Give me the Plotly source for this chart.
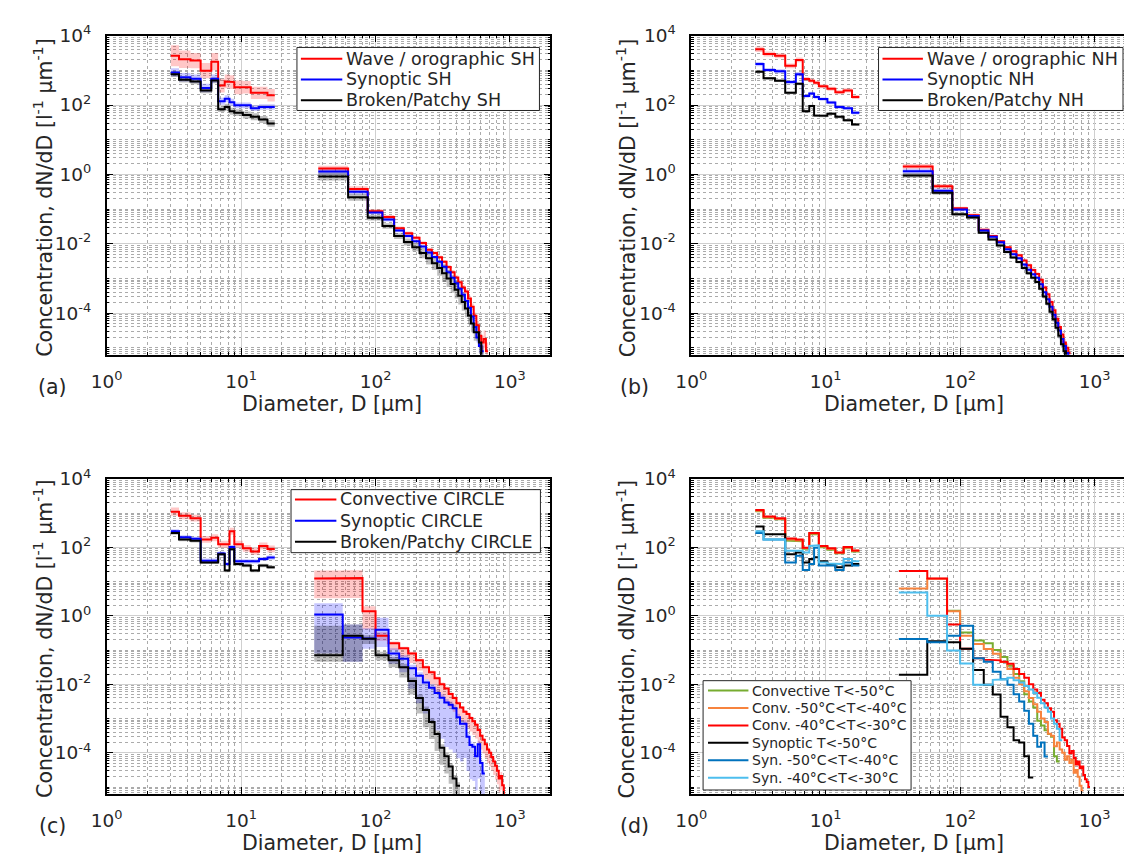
import plotly.graph_objects as go

# ---------------- bin edges (µm) ----------------
SMALL_EDGES = [3, 3.45, 4.2, 5, 6, 6.75, 7.55, 8.2, 8.9, 10.3, 11.8, 13.6, 15.7, 17.8]
AB_LARGE_EDGES = [37.5, 62.5, 87.5, 112.5, 137.5, 162.5, 187.5, 212.5, 237.5, 262.5,
                  287.5, 312.5, 337.5, 362.5, 387.5, 412.5, 437.5, 462.5, 487.5, 512.5,
                  537.5, 562.5, 587.5, 612.5, 637.5, 662.5, 687.5]
CD_LARGE_EDGES = [35, 57, 80, 100, 125, 150, 175, 200, 225, 250, 275, 300, 325, 350,
                  375, 400, 425, 450, 475, 500, 525, 550, 575, 600, 625, 650, 675, 700,
                  725, 750, 775, 800, 825, 850, 875, 900, 925]

# ---------------- values: log10 of dN/dD [l^-1 um^-1] ----------------
# (a) Southern hemisphere
a_wave_small = [3.42, 3.32, 3.28, 2.99, 3.25, 2.56, 2.68, 2.66, 2.51, 2.51, 2.35, 2.35, 2.28]
a_syn_small = [2.94, 2.80, 2.76, 2.49, 2.76, 2.11, 2.18, 2.08, 1.99, 1.99, 1.91, 1.94, 1.94]
a_brk_small = [2.89, 2.73, 2.68, 2.42, 2.71, 1.88, 1.94, 1.82, 1.78, 1.71, 1.66, 1.58, 1.47]
a_wave_large = [0.17, -0.42, -1.06, -1.23, -1.55, -1.70, -1.83, -1.98, -2.17, -2.27, -2.39, -2.52, -2.67,
                -2.82, -2.97, -3.11, -3.26, -3.38, -3.58, -3.82, -4.08, -4.35, -4.65, -4.85, -4.75, -5.10]
a_syn_large = [0.08, -0.50, -1.10, -1.30, -1.62, -1.78, -1.93, -2.08, -2.25, -2.38, -2.52, -2.66, -2.82,
               -2.98, -3.14, -3.30, -3.47, -3.65, -3.85, -4.10, -4.40, -4.70, -4.95, -5.10]
a_brk_large = [-0.06, -0.66, -1.25, -1.49, -1.78, -1.95, -2.10, -2.27, -2.42, -2.56, -2.70, -2.85, -3.00,
               -3.16, -3.33, -3.50, -3.68, -3.87, -4.07, -4.30, -4.55, -4.55, -4.85, -5.25]
a_wave_small_err = [0.30, 0.25, 0.22, 0.22, 0.25, 0.20, 0.20, 0.20, 0.20, 0.18, 0.18, 0.18, 0.18]
a_syn_small_err = [0.12, 0.12, 0.12, 0.12, 0.12, 0.10, 0.10, 0.10, 0.08, 0.08, 0.08, 0.08, 0.08]
a_brk_small_err = [0.08, 0.08, 0.08, 0.08, 0.08, 0.08, 0.10, 0.10, 0.10, 0.10, 0.10, 0.10, 0.10]
a_wave_large_err = [0.08, 0.08, 0.06, 0.06, 0.05, 0.05, 0.05, 0.05, 0.05, 0.05, 0.05, 0.05, 0.06,
                    0.06, 0.06, 0.07, 0.07, 0.08, 0.08, 0.10, 0.10, 0.12, 0.15, 0.20, 0.25, 0.25]
a_syn_large_err = [0.08, 0.08, 0.06, 0.06, 0.05, 0.05, 0.05, 0.05, 0.05, 0.05, 0.05, 0.06, 0.06,
                   0.06, 0.07, 0.07, 0.08, 0.08, 0.10, 0.10, 0.12, 0.15, 0.20, 0.20]
a_brk_large_err = [0.12, 0.10, 0.08, 0.08, 0.08, 0.10, 0.12, 0.15, 0.18, 0.20, 0.22, 0.25, 0.25,
                   0.25, 0.25, 0.25, 0.25, 0.25, 0.25, 0.25, 0.25, 0.25, 0.30, 0.30]

# (b) Northern hemisphere
b_wave_small = [3.61, 3.47, 3.42, 3.13, 3.30, 2.75, 2.70, 2.64, 2.54, 2.47, 2.37, 2.42, 2.23]
b_syn_small = [3.18, 3.01, 2.97, 2.66, 2.89, 2.26, 2.33, 2.23, 2.17, 2.07, 1.94, 1.91, 1.78]
b_brk_small = [2.96, 2.77, 2.70, 2.35, 2.61, 1.82, 1.97, 1.70, 1.69, 1.75, 1.66, 1.56, 1.44]
b_wave_large = [0.23, -0.34, -0.98, -1.18, -1.60, -1.78, -1.93, -2.10, -2.22, -2.33, -2.48, -2.62, -2.76,
                -2.87, -3.04, -3.26, -3.46, -3.68, -3.92, -4.16, -4.40, -4.62, -4.85, -5.00, -5.15]
b_syn_large = [0.09, -0.47, -1.01, -1.20, -1.62, -1.80, -1.96, -2.16, -2.30, -2.42, -2.60, -2.75, -2.88,
               -2.98, -3.17, -3.40, -3.60, -3.82, -4.05, -4.28, -4.50, -4.75, -4.95, -5.15, -5.30]
b_brk_large = [-0.03, -0.53, -1.15, -1.24, -1.68, -1.88, -2.05, -2.24, -2.40, -2.53, -2.70, -2.85, -2.98,
               -3.10, -3.30, -3.52, -3.73, -3.96, -4.18, -4.42, -4.65, -4.90, -5.10, -5.30]
b_wave_small_err = [0.08, 0.07, 0.07, 0.07, 0.07, 0.06, 0.06, 0.06, 0.06, 0.06, 0.06, 0.06, 0.06]
b_syn_small_err = [0.06, 0.06, 0.06, 0.06, 0.06, 0.05, 0.05, 0.05, 0.05, 0.05, 0.05, 0.05, 0.05]
b_brk_small_err = [0.04, 0.04, 0.04, 0.04, 0.04, 0.04, 0.04, 0.04, 0.04, 0.04, 0.04, 0.04, 0.04]
b_large_err = [0.07, 0.06, 0.05, 0.05, 0.04, 0.04, 0.04, 0.04, 0.04, 0.04, 0.05, 0.05, 0.05,
               0.05, 0.05, 0.06, 0.06, 0.07, 0.07, 0.08, 0.08, 0.10, 0.10, 0.12, 0.12]

# (c) CIRCLE
c_conv_small = [3.04, 2.92, 2.85, 2.23, 2.28, 2.09, 2.09, 2.47, 2.09, 1.97, 1.88, 2.04, 1.95]
c_syn_small = [2.47, 2.29, 2.25, 1.61, 1.61, 1.82, 1.51, 2.01, 1.59, 1.59, 1.59, 1.66, 1.70]
c_brk_small = [2.42, 2.23, 2.19, 1.56, 1.56, 1.80, 1.32, 1.94, 1.51, 1.47, 1.32, 1.47, 1.42]
c_conv_large = [1.09, 1.10, 0.13, -0.58, -0.80, -0.95, -1.10, -1.30, -1.50, -1.65, -1.82, -2.00,
                -2.12, -2.28, -2.40, -2.55, -2.68, -2.80, -2.87, -2.98, -3.08, -3.18, -3.33, -3.50,
                -3.62, -3.75, -3.90, -4.00, -4.12, -4.25, -4.38, -4.52, -4.75, -4.68, -4.95, -5.30]
c_syn_large = [0.04, -0.63, -0.66, -0.41, -1.10, -1.25, -1.53, -1.75, -1.95, -2.10, -2.25, -2.39,
               -2.53, -2.60, -2.70, -2.96, -3.15, -3.15, -3.53, -3.77, -3.82, -4.10, -3.75, -4.30, -4.60]
c_brk_large = [-1.15, -0.58, -0.67, -1.15, -1.30, -1.50, -1.90, -2.40, -2.75, -3.10, -3.45, -3.85,
               -4.10, -4.40, -4.75, -4.96]
c_conv_small_err = [0.12, 0.10, 0.10, 0.10, 0.10, 0.10, 0.10, 0.10, 0.10, 0.10, 0.10, 0.10, 0.10]
c_syn_small_err = [0.06, 0.06, 0.06, 0.06, 0.06, 0.06, 0.06, 0.06, 0.06, 0.06, 0.06, 0.06, 0.06]
c_brk_small_err = [0.05, 0.05, 0.05, 0.05, 0.05, 0.05, 0.05, 0.05, 0.05, 0.05, 0.05, 0.05, 0.05]
c_conv_large_lo = [0.58, 0.58, 0.52, 0.15, 0.20, 0.25, 0.28, 0.30, 0.35, 0.35, 0.40, 0.40,
                   0.40, 0.40, 0.40, 0.40, 0.40, 0.40, 0.40, 0.40, 0.40, 0.40, 0.40, 0.40,
                   0.40, 0.40, 0.40, 0.40, 0.40, 0.40, 0.40, 0.40, 0.40, 0.40, 0.40, 0.40]
c_conv_large_hi = [0.23, 0.23, 0.15, 0.10, 0.05, 0.05, 0.05, 0.05, 0.05, 0.05, 0.05, 0.05,
                   0.05, 0.05, 0.05, 0.05, 0.05, 0.05, 0.05, 0.05, 0.05, 0.05, 0.05, 0.05,
                   0.05, 0.05, 0.08, 0.08, 0.08, 0.10, 0.10, 0.10, 0.12, 0.12, 0.12, 0.12]
c_syn_large_lo = [1.14, 0.71, 0.30, 0.50, 0.30, 0.40, 0.60, 0.80, 0.90, 1.00, 1.10, 1.20,
                  1.30, 1.30, 1.30, 1.20, 1.10, 1.00, 1.00, 1.00, 1.00, 1.00, 1.00, 1.00, 1.00]
c_syn_large_hi = [0.33, 0.38, 0.30, 0.35, 0.15, 0.10, 0.10, 0.10, 0.10, 0.10, 0.10, 0.10,
                  0.10, 0.10, 0.10, 0.10, 0.10, 0.10, 0.10, 0.10, 0.10, 0.10, 0.10, 0.10, 0.10]
c_brk_large_lo = [0.19, 0.76, 0.15, 0.15, 0.20, 0.30, 0.40, 0.45, 0.50, 0.50, 0.50, 0.50,
                  0.50, 0.50, 0.50, 0.50]
c_brk_large_hi = [0.86, 0.33, 0.10, 0.10, 0.10, 0.10, 0.10, 0.10, 0.10, 0.10, 0.10, 0.10,
                  0.10, 0.10, 0.10, 0.10]

# (d) CIRCLE by temperature
d_c50_small = [3.05, 2.86, 2.82, 2.20, 2.18, 1.96, 2.38, 2.38, 2.00, 1.93, 1.83, 1.97, 1.88]
d_c40_small = [3.07, 2.88, 2.83, 2.23, 2.20, 1.98, 2.40, 2.40, 2.02, 1.95, 1.84, 1.99, 1.90]
d_c30_small = [3.09, 2.90, 2.85, 2.26, 2.23, 1.99, 2.42, 2.42, 2.04, 1.97, 1.85, 2.01, 1.91]
d_s50_small = [2.61, 2.38, 2.38, 1.80, 1.85, 1.56, 1.66, 1.71, 1.59, 1.51, 1.42, 1.47, 1.51]
d_s40_small = [2.42, 2.23, 2.23, 1.56, 1.75, 1.34, 1.51, 1.99, 1.47, 1.47, 1.34, 1.56, 1.47]
d_s30_small = [2.47, 2.23, 2.23, 1.90, 1.90, 1.85, 2.04, 2.06, 1.56, 1.53, 1.51, 1.66, 1.59]
d_c50_large = [None, None, 0.15, -0.49, -0.72, -0.80, -1.00, -1.20, -1.46, -1.70, -1.91, -2.29,
               -2.50, -2.68, -3.06, -3.20, -3.34, -3.45, -3.53, -4.10, -4.25]
d_c40_large = [0.80, 1.08, 0.13, -0.58, -0.82, -0.97, -1.11, -1.35, -1.55, -1.81, -2.00, -2.20,
               -2.40, -2.58, -2.80, -3.00, -3.10, -3.44, -3.50, -3.81, -3.70, -3.90, -4.00, -4.20,
               -4.10, -4.30, -4.20, -4.58, -4.50, -4.70, -4.96, -5.10]
d_c30_large = [1.31, 1.09, -0.25, -0.96, -1.24, -1.28, -1.30, -1.34, -1.40, -1.55, -1.70, -1.81,
               -2.00, -2.15, -2.25, -2.45, -2.55, -2.70, -2.80, -3.05, -3.15, -3.30, -3.55, -3.63,
               -3.80, -4.01, -3.95, -4.15, -4.34, -4.25, -4.45, -4.40, -4.65, -4.77, -4.85, -5.00]
d_s50_large = [-1.72, -0.74, -0.77, -0.96, -1.58, -2.01, -2.30, -2.95, -3.25, -3.63, -3.70, -4.10, -4.72]
d_s40_large = [-0.68, -0.77, -0.58, -0.29, -1.24, -1.34, -1.63, -1.85, -2.01, -2.29, -2.50, -2.77,
               -3.15, -3.50, -3.82, -3.70, -4.11]
d_s30_large = [0.68, 0.00, -1.01, -1.39, -2.01, -2.01, -1.87, -1.85, -1.81, -1.88, -1.95, -2.05,
               -2.15, -2.25, -2.39, -2.55, -2.68, -2.80, -3.00, -3.15, -3.30, -3.63]

# ---------------- labels ----------------
A_NAMES = ["Wave / orographic SH", "Synoptic SH", "Broken/Patchy SH"]
B_NAMES = ["Wave / orographic NH", "Synoptic NH", "Broken/Patchy NH"]
C_NAMES = ["Convective CIRCLE", "Synoptic CIRCLE", "Broken/Patchy CIRCLE"]
D_NAMES = ["Convective T<-50°C", "Conv. -50°C<T<-40°C", "Conv. -40°C<T<-30°C",
           "Synoptic T<-50°C", "Syn. -50°C<T<-40°C", "Syn. -40°C<T<-30°C"]
PANEL_LABELS = ["(a)", "(b)", "(c)", "(d)"]
X_TITLE = "Diameter, D [μm]"
Y_TITLE = "Concentration, dN/dD [l<sup>-1</sup> μm<sup>-1</sup>]"
X_TICKS = [1, 10, 100, 1000]
X_TICKTEXT = ["10<sup>0</sup>", "10<sup>1</sup>", "10<sup>2</sup>", "10<sup>3</sup>"]
Y_TICKS = [1e-4, 1e-2, 1, 100, 1e4]
Y_TICKTEXT = ["10<sup>-4</sup>", "10<sup>-2</sup>", "10<sup>0</sup>", "10<sup>2</sup>", "10<sup>4</sup>"]

# ---------------- styling ----------------
W, H = 1124, 854
FONT = "DejaVu Sans"
TXT = "#262626"
RED, BLUE, BLACK = "#ff0000", "#0000ff", "#000000"
F_RED, F_BLUE, F_BLACK = "rgba(255,0,0,0.22)", "rgba(0,0,255,0.22)", "rgba(0,0,0,0.25)"
GREEN, ORANGE, MBLUE, LBLUE = "#77ac30", "#f7833d", "#0072bd", "#4dbeee"


def step_xy(parts):
    xs, ys = [], []
    for edges, logs in parts:
        for i, v in enumerate(logs):
            if v is None:
                xs.append(None); ys.append(None)
                continue
            xs += [edges[i], edges[i + 1]]
            ys += [10 ** v, 10 ** v]
        xs.append(None); ys.append(None)
    return xs, ys


def band_xy(parts):
    xs, ys = [], []
    for edges, logs, lo, hi in parts:
        for i, v in enumerate(logs):
            if v is None:
                continue
            x0, x1 = edges[i], edges[i + 1]
            yl, yh = 10 ** (v - lo[i]), 10 ** (v + hi[i])
            xs += [x0, x1, x1, x0, x0, None]
            ys += [yl, yl, yh, yh, yl, None]
    return xs, ys


fig = go.Figure()


def add_band(ax, parts, fill):
    xs, ys = band_xy(parts)
    fig.add_trace(go.Scatter(x=xs, y=ys, xaxis="x" + ax, yaxis="y" + ax, mode="lines",
                             fill="toself", fillcolor=fill, line=dict(width=0),
                             showlegend=False, hoverinfo="skip"))


def add_line(ax, parts, color, name, width=2):
    xs, ys = step_xy(parts)
    fig.add_trace(go.Scatter(x=xs, y=ys, xaxis="x" + ax, yaxis="y" + ax, mode="lines",
                             line=dict(color=color, width=width), name=name,
                             showlegend=False, connectgaps=False))


# ---- panel (a)
add_band("", [(SMALL_EDGES, a_wave_small, a_wave_small_err, a_wave_small_err),
              (AB_LARGE_EDGES, a_wave_large, a_wave_large_err, a_wave_large_err)], F_RED)
add_band("", [(SMALL_EDGES, a_syn_small, a_syn_small_err, a_syn_small_err),
              (AB_LARGE_EDGES, a_syn_large, a_syn_large_err, a_syn_large_err)], F_BLUE)
add_band("", [(SMALL_EDGES, a_brk_small, a_brk_small_err, a_brk_small_err),
              (AB_LARGE_EDGES, a_brk_large, a_brk_large_err, a_brk_large_err)], F_BLACK)
add_line("", [(SMALL_EDGES, a_wave_small), (AB_LARGE_EDGES, a_wave_large)], RED, A_NAMES[0])
add_line("", [(SMALL_EDGES, a_syn_small), (AB_LARGE_EDGES, a_syn_large)], BLUE, A_NAMES[1])
add_line("", [(SMALL_EDGES, a_brk_small), (AB_LARGE_EDGES, a_brk_large)], BLACK, A_NAMES[2])

# ---- panel (b)
add_band("2", [(SMALL_EDGES, b_wave_small, b_wave_small_err, b_wave_small_err),
               (AB_LARGE_EDGES, b_wave_large, b_large_err, b_large_err)], F_RED)
add_band("2", [(SMALL_EDGES, b_syn_small, b_syn_small_err, b_syn_small_err),
               (AB_LARGE_EDGES, b_syn_large, b_large_err, b_large_err)], F_BLUE)
add_band("2", [(SMALL_EDGES, b_brk_small, b_brk_small_err, b_brk_small_err),
               (AB_LARGE_EDGES, b_brk_large, b_large_err, b_large_err)], F_BLACK)
add_line("2", [(SMALL_EDGES, b_wave_small), (AB_LARGE_EDGES, b_wave_large)], RED, B_NAMES[0])
add_line("2", [(SMALL_EDGES, b_syn_small), (AB_LARGE_EDGES, b_syn_large)], BLUE, B_NAMES[1])
add_line("2", [(SMALL_EDGES, b_brk_small), (AB_LARGE_EDGES, b_brk_large)], BLACK, B_NAMES[2])

# ---- panel (c)
add_band("3", [(SMALL_EDGES, c_conv_small, c_conv_small_err, c_conv_small_err),
               (CD_LARGE_EDGES, c_conv_large, c_conv_large_lo, c_conv_large_hi)], F_RED)
add_band("3", [(SMALL_EDGES, c_syn_small, c_syn_small_err, c_syn_small_err),
               (CD_LARGE_EDGES, c_syn_large, c_syn_large_lo, c_syn_large_hi)], F_BLUE)
add_band("3", [(SMALL_EDGES, c_brk_small, c_brk_small_err, c_brk_small_err),
               (CD_LARGE_EDGES, c_brk_large, c_brk_large_lo, c_brk_large_hi)], F_BLACK)
add_line("3", [(SMALL_EDGES, c_conv_small), (CD_LARGE_EDGES, c_conv_large)], RED, C_NAMES[0])
add_line("3", [(SMALL_EDGES, c_syn_small), (CD_LARGE_EDGES, c_syn_large)], BLUE, C_NAMES[1])
add_line("3", [(SMALL_EDGES, c_brk_small), (CD_LARGE_EDGES, c_brk_large)], BLACK, C_NAMES[2])

# ---- panel (d)
D_COLORS = [GREEN, ORANGE, RED, BLACK, MBLUE, LBLUE]
d_series = [(d_c50_small, d_c50_large), (d_c40_small, d_c40_large), (d_c30_small, d_c30_large),
            (d_s50_small, d_s50_large), (d_s40_small, d_s40_large), (d_s30_small, d_s30_large)]
for (sm, lg), col, nm in zip(d_series, D_COLORS, D_NAMES):
    add_line("4", [(SMALL_EDGES, sm), (CD_LARGE_EDGES, lg)], col, nm)

# ---------------- axes ----------------
x_minor = [m * d for d in [1, 10, 100, 1000] for m in range(2, 10)]
y_minor = [m * 10.0 ** k for k in range(-6, 4) for m in range(1, 10) if not (m == 1 and k % 2 == 0)]


def px_x(p):
    return p / W


def px_y(p):
    return 1 - p / H


common = dict(type="log", showline=True, linecolor="#000000", linewidth=1.5,
              ticks="inside", ticklen=7, tickwidth=1, tickcolor="#000000",
              showgrid=True, gridcolor="#cfcfcf", gridwidth=1, zeroline=False,
              tickfont=dict(family=FONT, size=18.5, color=TXT), tickmode="array")
minor = dict(tickmode="array", ticks="inside", ticklen=3, tickcolor="#000000",
             showgrid=True, gridcolor="#ababab", griddash="dot", gridwidth=1)

LEFT_DOM = [px_x(92), px_x(542)]
RIGHT_DOM = [px_x(685), 1.0]
TOP_DOM = [px_y(347), px_y(23)]
BOT_DOM = [px_y(793), px_y(473)]
RIGHT_RANGE = [0, (W - 685) / (450 / 3.3)]

axes = {
    "": (LEFT_DOM, TOP_DOM, [0, 3.3], "allticks"),
    "2": (RIGHT_DOM, TOP_DOM, RIGHT_RANGE, False),
    "3": (LEFT_DOM, BOT_DOM, [0, 3.3], "allticks"),
    "4": (RIGHT_DOM, BOT_DOM, RIGHT_RANGE, False),
}
layout_axes = {}
for k, (xd, yd, xr, ymirror) in axes.items():
    layout_axes["xaxis" + k] = dict(common, domain=xd, range=xr, anchor="y" + k,
                                    tickvals=X_TICKS, ticktext=X_TICKTEXT, mirror="allticks",
                                    ticklabelstandoff=9,
                                    minor=dict(minor, tickvals=x_minor))
    layout_axes["yaxis" + k] = dict(common, domain=yd, range=[-5.2, 4], anchor="x" + k,
                                    tickvals=Y_TICKS, ticktext=Y_TICKTEXT, mirror=ymirror,
                                    ticklabelstandoff=10,
                                    minor=dict(minor, tickvals=y_minor))

# ---------------- titles, panel labels ----------------
annotations = []
shapes = []
for (xc, yc) in [(28, 188), (619, 188), (28, 636), (619, 636)]:
    annotations.append(dict(text=Y_TITLE, x=px_x(xc), y=px_y(yc), xref="paper", yref="paper",
                            textangle=-90, showarrow=False, xanchor="center", yanchor="middle",
                            font=dict(family=FONT, size=20.5, color=TXT)))
for (xc, yc) in [(321, 397), (911, 397), (321, 843), (911, 843)]:
    annotations.append(dict(text=X_TITLE, x=px_x(xc), y=px_y(yc), xref="paper",
                            yref="paper", showarrow=False, xanchor="center", yanchor="middle",
                            font=dict(family=FONT, size=20.5, color=TXT)))
for lab, (xc, yc) in zip(PANEL_LABELS, [(37, 380), (627, 380), (37, 826), (627, 826)]):
    annotations.append(dict(text=lab, x=px_x(xc), y=px_y(yc), xref="paper", yref="paper",
                            showarrow=False, xanchor="center", yanchor="middle",
                            font=dict(family=FONT, size=20.5, color=TXT)))


# ---------------- legends (boxes drawn in figure pixels) ----------------
def add_legend(box, line_x, text_x, rows, names, colors, size):
    x0, x1, y0, y1 = box
    shapes.append(dict(type="rect", xref="paper", yref="paper", layer="above",
                       x0=px_x(x0), x1=px_x(x1), y0=px_y(y1), y1=px_y(y0),
                       line=dict(color=TXT, width=1), fillcolor="#ffffff"))
    for yr, nm, col in zip(rows, names, colors):
        shapes.append(dict(type="line", xref="paper", yref="paper", layer="above",
                           x0=px_x(line_x[0]), x1=px_x(line_x[1]), y0=px_y(yr), y1=px_y(yr),
                           line=dict(color=col, width=2)))
        annotations.append(dict(text=nm, x=px_x(text_x), y=px_y(yr), xref="paper", yref="paper",
                                showarrow=False, xanchor="left", yanchor="middle",
                                font=dict(family=FONT, size=size, color=TXT)))


add_legend((285, 531, 35, 99), (289, 331), 333, [46.5, 67.5, 88.5], A_NAMES, [RED, BLUE, BLACK], 17.5)
add_legend((875, 1123, 35, 99), (879, 920), 922, [46.5, 67.5, 88.5], B_NAMES, [RED, BLUE, BLACK], 17.5)
add_legend((279, 532, 484, 548), (283, 325), 327, [494, 515.5, 537], C_NAMES, [RED, BLUE, BLACK], 17.5)
add_legend((697, 908, 678, 789), (702, 743), 745, [688, 705.7, 723.4, 741.1, 758.8, 776.5],
           D_NAMES, D_COLORS, 14)

fig.update_layout(
    width=W, height=H, margin=dict(l=0, r=0, t=0, b=0),
    paper_bgcolor="#ffffff", plot_bgcolor="#ffffff",
    font=dict(family=FONT, color=TXT),
    showlegend=False,
    annotations=annotations,
    shapes=shapes,
    **layout_axes,
)

fig.write_html("out.html", config={"displayModeBar": False},
               post_script="document.body.style.margin='0';document.body.style.overflow='hidden';")
